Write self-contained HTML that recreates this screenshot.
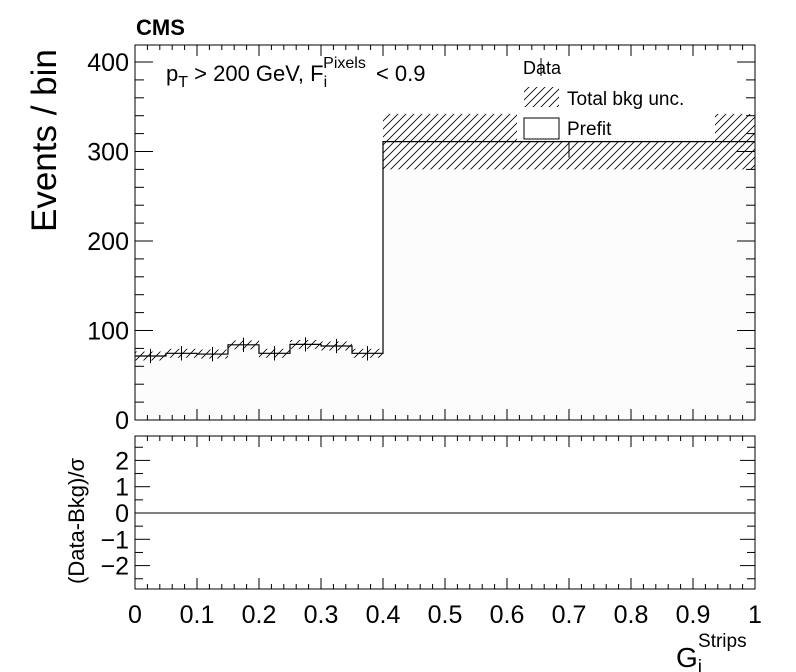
<!DOCTYPE html>
<html><head><meta charset="utf-8"><style>
html,body{margin:0;padding:0;background:#fff}
svg{display:block;font-family:"Liberation Sans",sans-serif}
</style></head><body>
<svg id="c" width="796" height="672" viewBox="0 0 796 672" xmlns="http://www.w3.org/2000/svg">
<defs>
<pattern id="hatch" patternUnits="userSpaceOnUse" width="8" height="8">
<path d="M0,8 L8,0 M-2,2 L2,-2 M6,10 L10,6" stroke="#000" stroke-width="0.8"/>
</pattern>
</defs>
<g id="main"></g>
<g id="ratio"></g>
</svg>
<script>
const binEdges=[0,0.05,0.1,0.15,0.2,0.25,0.3,0.35,0.4,1.0];
const bkgValues=[71.5,74.5,73.7,84,74.5,84.5,82.7,74.5,311];
const bkgUnc=[5,5,5,5,5,5,5,5,31];
const dataValues=[71.5,74.5,73.7,84,74.5,84.5,82.7,74.5,311];
const dataErr=[8,8,8,8,8,8,8,8,18];
const pullValues=[0,0,0,0,0,0,0,0,0];
const yTicks=[0,100,200,300,400];
const rTicks=[-2,-1,0,1,2];
const xTicks=[0,0.1,0.2,0.3,0.4,0.5,0.6,0.7,0.8,0.9,1];

const NS="http://www.w3.org/2000/svg";
const X0=135,X1=755,YT=45,YB=420;
const x=v=>X0+(X1-X0)*v;
const y=v=>YB-v*0.895;
const RT=436,RB=589,R0=513;
const ry=v=>R0-v*26.3;
function el(p,t,a){const e=document.createElementNS(NS,t);for(const k in a)e.setAttribute(k,a[k]);p.appendChild(e);return e;}
const M=document.getElementById('main'),R=document.getElementById('ratio');

let d=`M${x(0)},${YB}`;
for(let i=0;i<bkgValues.length;i++){d+=` L${x(binEdges[i])},${y(bkgValues[i])} L${x(binEdges[i+1])},${y(bkgValues[i])}`;}
d+=` L${x(1)},${YB} Z`;
let e=el(M,'path',{d:d,fill:'#fcfcfc',stroke:'none'});

for(let i=0;i<bkgValues.length;i++){
 e=el(M,'rect',{x:x(binEdges[i]),y:y(bkgValues[i]+bkgUnc[i]),width:x(binEdges[i+1])-x(binEdges[i]),height:y(bkgValues[i]-bkgUnc[i])-y(bkgValues[i]+bkgUnc[i]),fill:'url(#hatch)'});
 
}
d=`M${x(0)},${y(bkgValues[0])}`;
for(let i=0;i<bkgValues.length;i++){d+=` L${x(binEdges[i])},${y(bkgValues[i])} L${x(binEdges[i+1])},${y(bkgValues[i])}`;}
e=el(M,'path',{d:d,fill:'none',stroke:'#000','stroke-width':1.2});

for(let i=0;i<dataValues.length;i++){
 const cx=x((binEdges[i]+binEdges[i+1])/2);
 e=el(M,'line',{x1:cx,x2:cx,y1:y(dataValues[i]+dataErr[i]),y2:y(dataValues[i]-dataErr[i]),stroke:'#000','stroke-width':1});
 
}
e=el(M,'rect',{x:517,y:52,width:198,height:89,fill:'#fff'});

e=el(M,'text',{x:523,y:74,'font-size':18});e.textContent='Data';

el(M,'line',{x1:541,x2:541,y1:58,y2:76,stroke:'#000'});
e=el(M,'rect',{x:524,y:87,width:35,height:20,fill:'url(#hatch)'});

e=el(M,'text',{x:567,y:105,'font-size':19});e.textContent='Total bkg unc.';

e=el(M,'rect',{x:524,y:118,width:35,height:21,fill:'#fff',stroke:'#000'});

e=el(M,'text',{x:567,y:135,'font-size':19});e.textContent='Prefit';


e=el(M,'rect',{x:X0,y:YT,width:X1-X0,height:YB-YT,fill:'none',stroke:'#000','stroke-width':1});

e=el(R,'rect',{x:X0,y:RT,width:X1-X0,height:RB-RT,fill:'none',stroke:'#000','stroke-width':1});


for(let v=0;v<=420;v+=20){
 const L=v%100===0?18:9;const yy=y(v);if(yy<YT)continue;
 el(M,'line',{x1:X0,x2:X0+L,y1:yy,y2:yy,stroke:'#000'});
 el(M,'line',{x1:X1,x2:X1-L,y1:yy,y2:yy,stroke:'#000'});
}
for(const v of yTicks){
 e=el(M,'text',{x:X0-6,y:y(v)+9,'font-size':25,'text-anchor':'end'});e.textContent=v;
 
}
for(let k=0;k<=50;k++){
 const v=k/50;const L=k%5===0?11:5;
 el(M,'line',{x1:x(v),x2:x(v),y1:YB,y2:YB-L,stroke:'#000'});
 el(M,'line',{x1:x(v),x2:x(v),y1:YT,y2:YT+L,stroke:'#000'});
 el(R,'line',{x1:x(v),x2:x(v),y1:RB,y2:RB-L,stroke:'#000'});
 el(R,'line',{x1:x(v),x2:x(v),y1:RT,y2:RT+L,stroke:'#000'});
}
for(const v of xTicks){
 e=el(R,'text',{x:x(v),y:623,'font-size':25,'text-anchor':'middle'});e.textContent=v;
 
}
for(let v=-2.5;v<=2.5;v+=0.5){
 const L=Number.isInteger(v)?15:8;
 el(R,'line',{x1:X0,x2:X0+L,y1:ry(v),y2:ry(v),stroke:'#000'});
 el(R,'line',{x1:X1,x2:X1-L,y1:ry(v),y2:ry(v),stroke:'#000'});
}
for(const v of rTicks){
 e=el(R,'text',{x:X0-6,y:ry(v)+9,'font-size':25,'text-anchor':'end'});e.textContent=v<0?'\u2212'+(-v):v;
 
}
d='';
for(let i=0;i<pullValues.length;i++){d+=(i?' L':'M')+`${x(binEdges[i])},${ry(pullValues[i])} L${x(binEdges[i+1])},${ry(pullValues[i])}`;}
e=el(R,'path',{d:d,fill:'none',stroke:'#000','stroke-width':1});

</script>
<svg style="position:absolute;left:0;top:0" width="796" height="672" xmlns="http://www.w3.org/2000/svg">
<text x="136" y="35" font-family="Liberation Sans,sans-serif" font-size="22" font-weight="bold">CMS</text>
<text x="166" y="81" font-family="Liberation Sans,sans-serif" font-size="22">p<tspan dy="6" font-size="16">T</tspan><tspan dy="-6"> &gt; 200 GeV, F</tspan><tspan dy="6" font-size="16">i</tspan><tspan dx="-4" dy="-19" font-size="16">Pixels</tspan><tspan dy="13" dx="4"> &lt; 0.9</tspan></text>
<text transform="translate(56,232) rotate(-90)" font-family="Liberation Sans,sans-serif" font-size="35">Events / bin</text>
<text transform="translate(84,584) rotate(-90)" font-family="Liberation Sans,sans-serif" font-size="22">(Data-Bkg)/σ</text>
<text x="676" y="667" font-family="Liberation Sans,sans-serif" font-size="28">G<tspan font-size="19" dy="6">i</tspan><tspan font-size="19" dx="-4" dy="-26">Strips</tspan></text>
</svg>
</body></html>
